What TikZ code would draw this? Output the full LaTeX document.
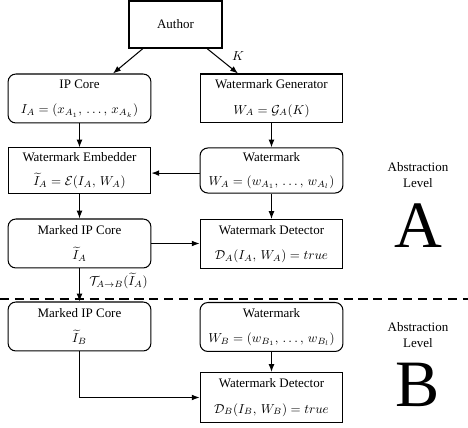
\documentclass[tikz,border=0pt]{standalone}
\usepackage{fontspec}
\setmainfont{Liberation Serif}
\usetikzlibrary{arrows.meta,calc}
\begin{document}
\begin{tikzpicture}[x=0.77pt,y=-0.77pt,
  box/.style={draw,line width=0.8pt,minimum width=110pt,minimum height=37.7pt,align=center,inner sep=1pt},
  rbox/.style={box,rounded corners=6pt},
  arr/.style={-{Latex[length=6pt,width=4.5pt]},line width=0.8pt},
  lvl/.style={align=center,inner sep=0pt},
  big/.style={inner sep=0pt,font=\fontsize{51}{51}\selectfont}]
\useasboundingbox (0,0) rectangle (468,428);
% level A
\node[box,minimum width=71.6pt,minimum height=36.2pt] (author) at (175.5,24.5) {Author};
\node[rbox] (ip) at (79.5,98.5) {IP Core\\[7.5pt]$I_A = (x_{A_1},\, \ldots,\, x_{A_k})$};
\node[box] (gen) at (271.5,98.5) {Watermark Generator\\[7.5pt]$W_A = \mathcal{G}_A(K)$};
\node[box,minimum height=34.7pt] (emb) at (79.5,170.5) {Watermark Embedder\\[6.5pt]$\widetilde{I}_A = \mathcal{E}(I_A,\, W_A)$};
\node[rbox,minimum height=34.7pt] (wmA) at (271.5,170.5) {Watermark\\[6.5pt]$W_A = (w_{A_1},\, \ldots,\, w_{A_l})$};
\node[rbox] (mA) at (79.5,243.5) {Marked IP Core\\[7pt]$\widetilde{I}_A$};
\node[box] (detA) at (271.5,244) {Watermark Detector\\[7.5pt]$\mathcal{D}_A(I_A,\, W_A) = true$};
\node[lvl] (lvlA) at (418,175) {Abstraction\\Level};
\node[big] (bigA) at (418,226) {A};
% level B
\node[rbox] (mB) at (79.5,326.5) {Marked IP Core\\[7pt]$\widetilde{I}_B$};
\node[rbox] (wmB) at (271.5,327) {Watermark\\[7.5pt]$W_B = (w_{B_1},\, \ldots,\, w_{B_l})$};
\node[box,minimum height=38.5pt] (detB) at (271.5,397.5) {Watermark Detector\\[7.5pt]$\mathcal{D}_B(I_B,\, W_B) = true$};
\node[lvl] (lvlB) at (418,335) {Abstraction\\Level};
\node[big] (bigB) at (418,385) {B};
% labels
\node[inner sep=0pt] (k) at (238,56) {$K$};
\node[inner sep=0pt,anchor=west] (tr) at (89,281) {$\mathcal{T}_{A\rightarrow B}(\widetilde{I}_A)$};
% separator
\coordinate (sepL) at (0,299);
\coordinate (sepR) at (468,299);
\draw[line width=0.8pt,dash pattern=on 7pt off 4.5pt] (sepL) -- (sepR);
% connectors
\draw[arr] ($(author.south)+(-32.5,0)$) -- ($(ip.north)+(33.5,0)$);
\draw[arr] ($(author.south)+(31.5,0)$) -- ($(gen.north)+(-33.5,0)$);
\draw[arr] (ip) -- (emb);
\draw[arr] (gen) -- (wmA);
\draw[arr] ([yshift=-2pt]wmA.west) -- ([yshift=-2pt]emb.east);
\draw[arr] (emb) -- (mA);
\draw[arr] (wmA) -- (detA);
\draw[arr] (mA.east) -- (mA.east -| detA.west);
\draw[arr] (mA) -- (mB);
\draw[arr] (wmB) -- (detB);
\draw[arr] (mB.south) |- (detB.west);
\end{tikzpicture}
\end{document}
